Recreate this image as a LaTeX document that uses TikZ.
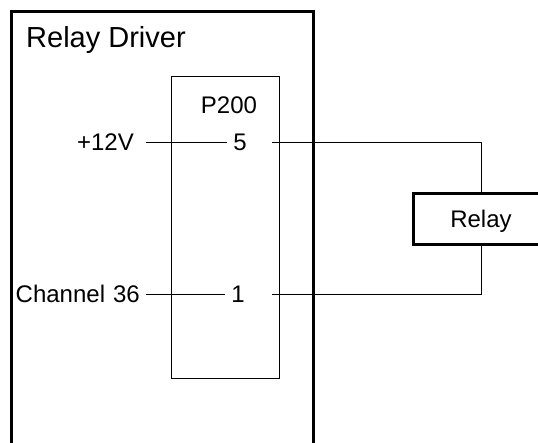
\documentclass[tikz,border=0pt]{standalone}
\usepackage{fontspec}
\setmainfont{Liberation Sans}
\tikzset{
  lbl/.style={font=\fontsize{24}{26}\selectfont, inner sep=6pt},
  wire/.style={line width=0.8pt},
  frame/.style={line width=3pt}
}
\begin{document}
\begin{tikzpicture}[x=1pt,y=-1pt]
\useasboundingbox (0,0) rectangle (538,442);
% driver frame, open at the bottom
\coordinate (dbl) at (11,470);
\coordinate (dtl) at (11,11);
\coordinate (dtr) at (313,11);
\coordinate (dbr) at (313,470);
\draw[frame] (dbl) -- (dtl) -- (dtr) -- (dbr);
\node[font=\fontsize{29}{31}\selectfont, inner sep=0pt, anchor=base west] (title) at (26,47) {Relay Driver};
% connector P200
\draw (225,227) node[draw, wire, minimum width=108pt, minimum height=302pt] (p200) {};
\draw (229,113) node[lbl, inner sep=0pt, anchor=base] (p200name) {P200};
\draw (240,142) node[lbl] (pin5) {5};
\draw (238,294) node[lbl] (pin1) {1};
\draw (146,142) node[lbl, inner xsep=12pt, anchor=east] (v12) {+12V};
\draw (146,294) node[lbl, anchor=east] (ch36) {Channel\hspace{8pt}36};
\coordinate (w5) at (272,142);
\coordinate (w1) at (272,294);
% relay
\draw (481,218.5) node[lbl, draw, frame, text depth=0pt, minimum width=136pt, minimum height=51pt] (relay) {Relay};
\draw[wire] (v12) -- (pin5);
\draw[wire] (ch36) -- (pin1);
\draw[wire] (w5) -| (relay.north);
\draw[wire] (w1) -| (relay.south);
\end{tikzpicture}
\end{document}
